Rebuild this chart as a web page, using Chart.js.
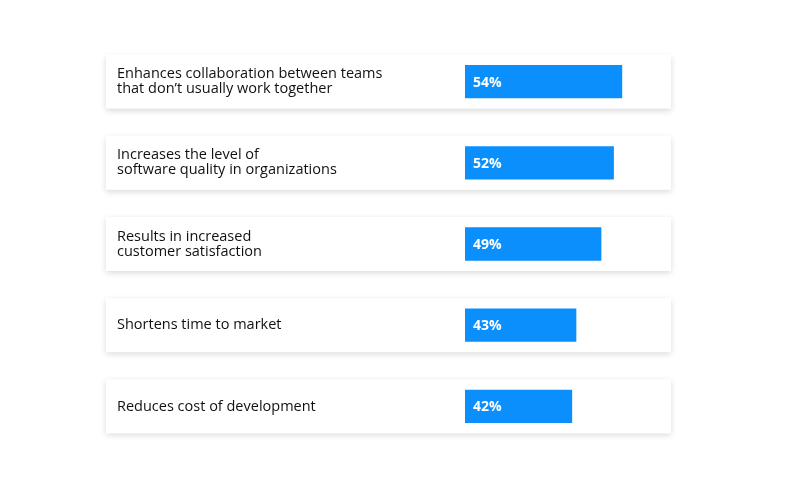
<!DOCTYPE html>
<html>
<head>
<meta charset="utf-8">
<script src="https://cdn.jsdelivr.net/npm/chart.js@4"></script>
<style>
  html, body { margin: 0; padding: 0; background: #fff; }
  #wrap { width: 800px; height: 500px; }
</style>
</head>
<body>
<div id="wrap"><canvas id="chart"></canvas></div>
<script>
// Datos del gráfico
const beneficios = [
    ["Enhances collaboration between teams", "that don’t usually work together"],
    ["Increases the level of", "software quality in organizations"],
    ["Results in increased", "customer satisfaction"],
    ["Shortens time to market"],
    ["Reduces cost of development"]
];
const porcentajes = [54, 52, 49, 43, 42];

// Tarjetas blancas con sombra detrás de cada fila, y textos
const tarjetasPlugin = {
    id: 'tarjetas',
    beforeDatasetsDraw(chart) {
        const ctx = chart.ctx;
        const meta = chart.getDatasetMeta(0);
        meta.data.forEach((bar, i) => {
            ctx.save();
            ctx.shadowColor = 'rgba(0,0,0,0.15)';
            ctx.shadowBlur = 6;
            ctx.shadowOffsetY = 2;
            ctx.fillStyle = '#fff';
            ctx.fillRect(106, bar.y - 27, 565, 54);
            ctx.restore();

            ctx.save();
            ctx.fillStyle = '#111';
            ctx.font = '500 14.5px "Open Sans", sans-serif';
            ctx.textBaseline = 'middle';
            const lines = beneficios[i];
            const lh = 15;
            lines.forEach((l, j) => {
                ctx.fillText(l, 117, bar.y + (j - (lines.length - 1) / 2) * lh);
            });
            ctx.restore();
        });
    },
    afterDatasetsDraw(chart) {
        const ctx = chart.ctx;
        const meta = chart.getDatasetMeta(0);
        const x0 = chart.chartArea.left;
        meta.data.forEach((bar, i) => {
            ctx.save();
            ctx.fillStyle = '#fff';
            ctx.font = 'bold 14px "Open Sans", sans-serif';
            ctx.textBaseline = 'middle';
            ctx.fillText(porcentajes[i] + '%', x0 + 8, bar.y + 1);
            ctx.restore();
        });
    }
};

new Chart(document.getElementById('chart'), {
    type: 'bar',
    data: {
        labels: beneficios.map(b => b.join(' ')),
        datasets: [{
            data: porcentajes,
            backgroundColor: '#0a8ffc',
            barPercentage: 0.41,
            categoryPercentage: 1
        }]
    },
    options: {
        indexAxis: 'y',
        responsive: true,
        maintainAspectRatio: false,
        animation: false,
        layout: { padding: { left: 465, right: 129, top: 41, bottom: 53 } },
        scales: {
            x: { display: false, min: 16.3, max: 65.7 },
            y: { display: false }
        },
        plugins: {
            legend: { display: false },
            tooltip: { enabled: false }
        }
    },
    plugins: [tarjetasPlugin]
});
</script>
</body>
</html>
